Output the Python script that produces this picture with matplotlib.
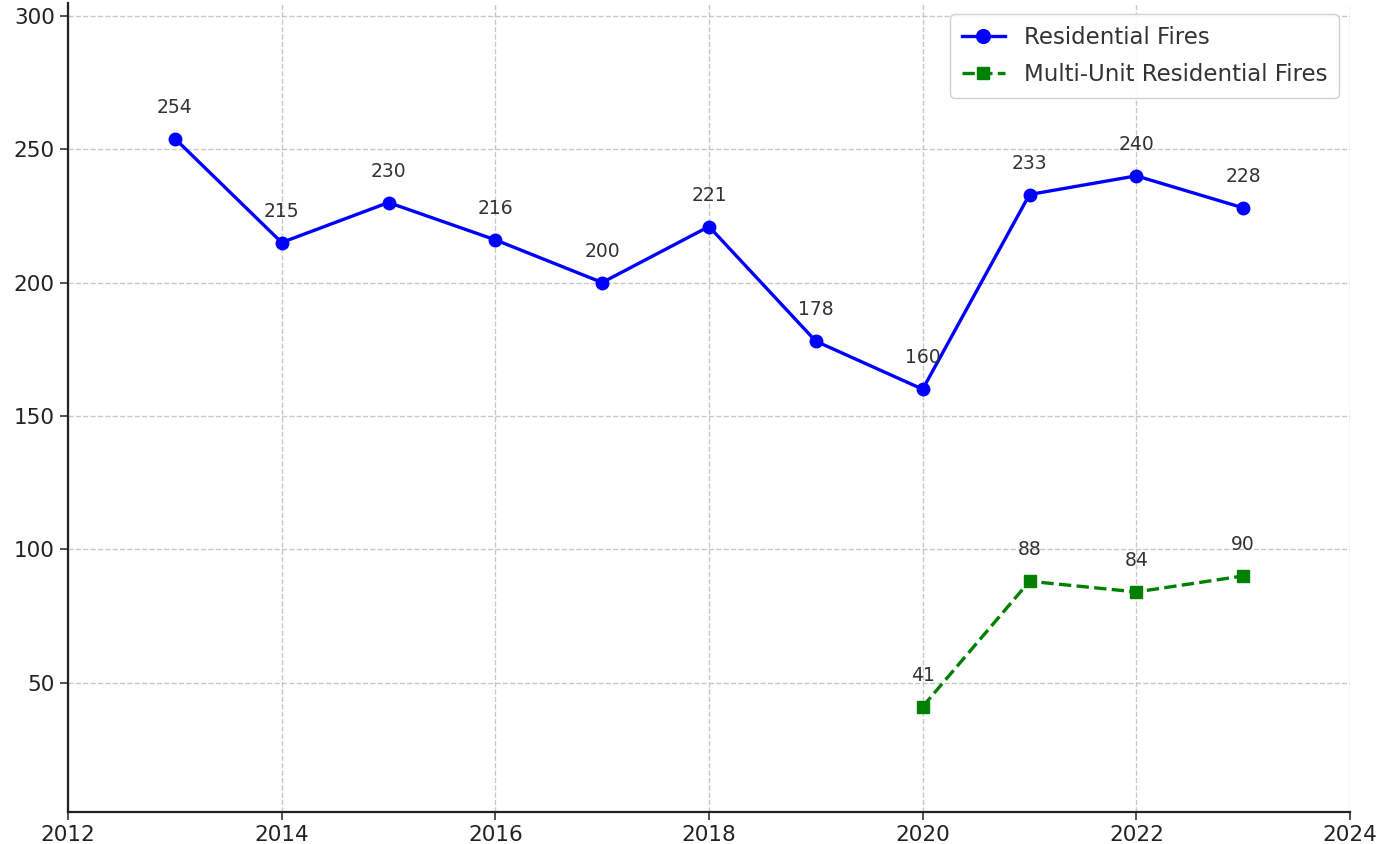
import matplotlib
matplotlib.use("Agg")
import matplotlib.pyplot as plt

years_res = [2013, 2014, 2015, 2016, 2017, 2018, 2019, 2020, 2021, 2022, 2023]
res_fires = [254, 215, 230, 216, 200, 221, 178, 160, 233, 240, 228]
years_multi = [2020, 2021, 2022, 2023]
multi_fires = [41, 88, 84, 90]
x_ticks = [2012, 2014, 2016, 2018, 2020, 2022, 2024]
y_ticks = [50, 100, 150, 200, 250, 300]

text_color = "#333333"
plt.rcParams["font.family"] = ["DejaVu Sans"]

fig = plt.figure(figsize=(13.88, 8.44), dpi=100)
ax = fig.add_axes([68/1388, 1 - 812/844, (1350-68)/1388, (812-3)/844])

ax.plot(years_res, res_fires, color="blue", marker="o", linestyle="-",
        linewidth=2.4, markersize=9, label="Residential Fires")
ax.plot(years_multi, multi_fires, color="green", marker="s", linestyle="--",
        linewidth=2.4, markersize=8, label="Multi-Unit Residential Fires")

for x, y in zip(years_res, res_fires):
    ax.annotate(str(y), (x, y), textcoords="offset pixels", xytext=(0, 26),
                ha="center", va="baseline", fontsize=13.5, color=text_color)
for x, y in zip(years_multi, multi_fires):
    ax.annotate(str(y), (x, y), textcoords="offset pixels", xytext=(0, 26),
                ha="center", va="baseline", fontsize=13.5, color=text_color)

ax.set_xlim(2012, 2024)
ax.set_ylim(1.5, 304.8)
ax.set_xticks(x_ticks)
ax.set_yticks(y_ticks)
ax.tick_params(axis="both", labelsize=15.5, colors=text_color, length=6, width=1.2)
for lab in ax.get_xticklabels() + ax.get_yticklabels():
    lab.set_color("#222222")
ax.grid(True, linestyle="--", color="#bbbbbb", linewidth=1, alpha=0.8)
ax.spines["top"].set_visible(False)
ax.spines["right"].set_visible(False)
for s in ("left", "bottom"):
    ax.spines[s].set_linewidth(1.6)
    ax.spines[s].set_color("#222222")

leg = ax.legend(loc="upper right", fontsize=16.5, frameon=True, fancybox=True,
                edgecolor="#cccccc", framealpha=0.9, borderpad=0.5,
                labelspacing=0.63, handlelength=1.9, markerscale=1.1)
for t in leg.get_texts():
    t.set_color(text_color)

fig.savefig("out.png", dpi=100)
